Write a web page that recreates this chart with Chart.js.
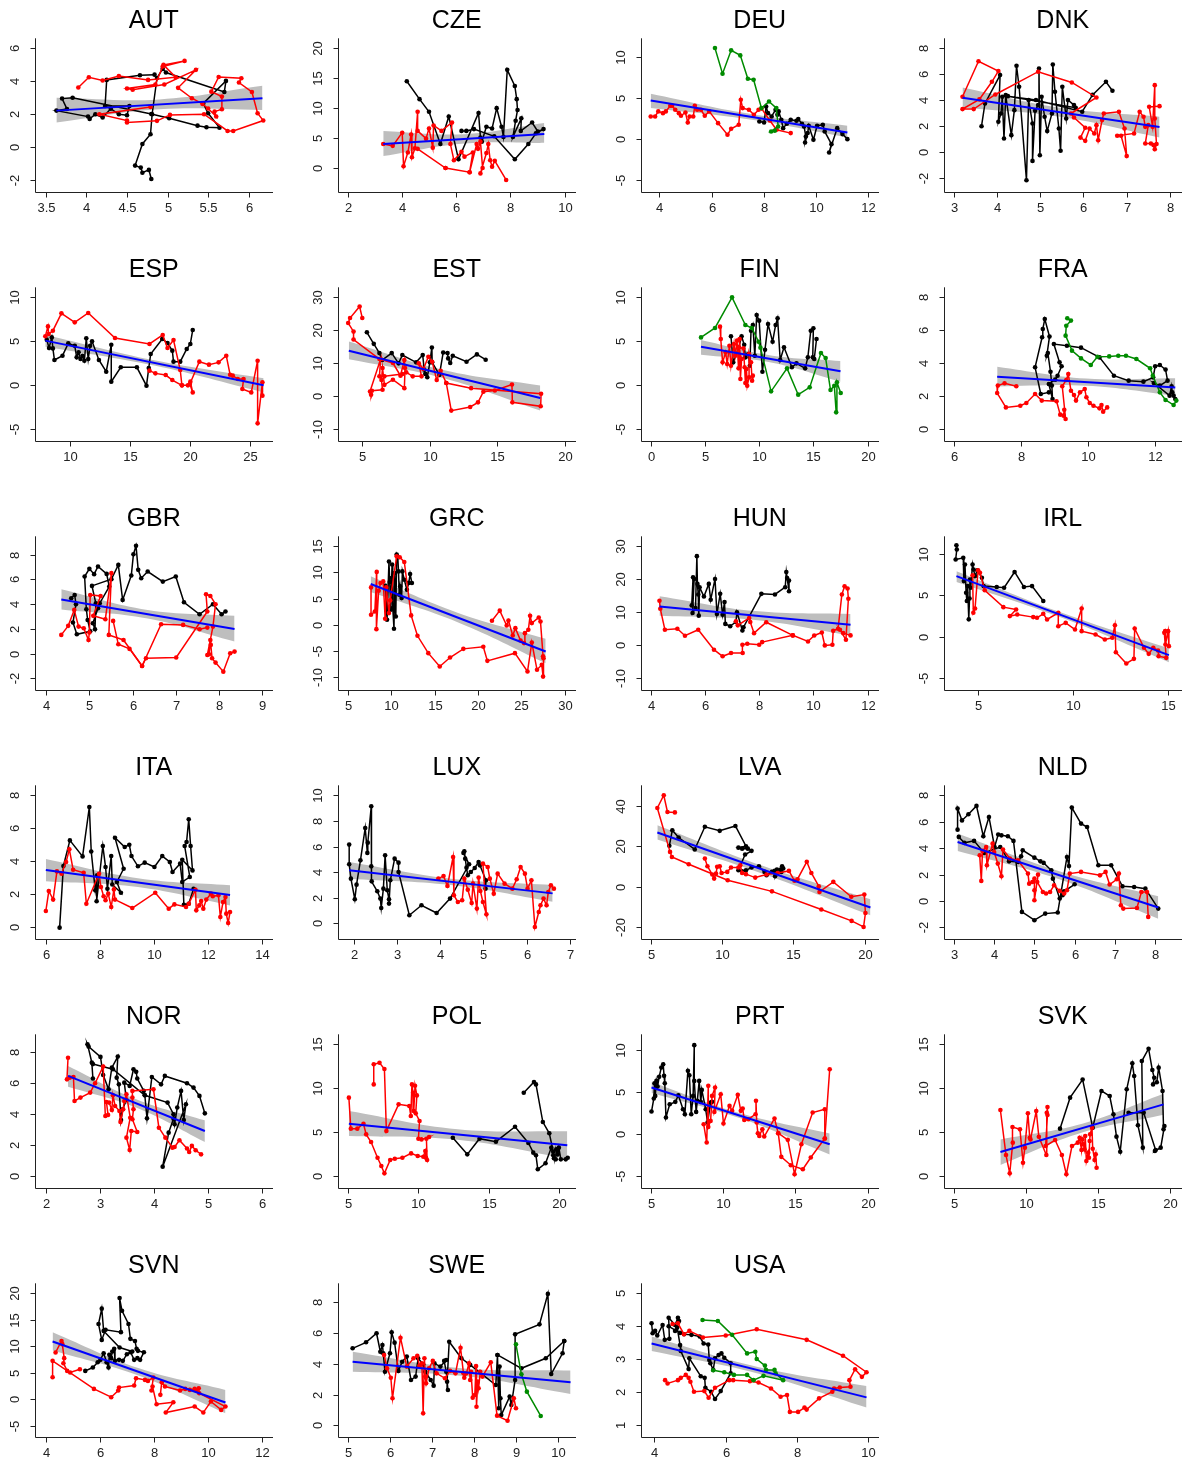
<!DOCTYPE html>
<html>
<head>
<meta charset="utf-8">
<script src="https://cdn.jsdelivr.net/npm/chart.js@4.4.0/dist/chart.umd.min.js"></script>
<style>
  html, body { margin: 0; padding: 0; background: #fff; overflow: hidden; width: 1183px; height: 1461px; position: relative; }
  canvas { position: absolute; }
</style>
</head>
<body>
<script>
// ---- data ----
const countries = ["AUT","CZE","DEU","DNK","ESP","EST","FIN","FRA","GBR","GRC","HUN","IRL","ITA","LUX","LVA","NLD","NOR","POL","PRT","SVK","SVN","SWE","USA"];

// AUT
const AUT_xticks = [3.5,4,4.5,5,5.5,6];
const AUT_yticks = [-2,0,2,4,6];
const AUT_lim = [3.36,6.30,-2.69,6.6];
const AUT_fit = [[3.63,2.22],[6.17,2.97]];
const AUT_band = [[3.63,1.50,3.00],[4.90,2.30,2.90],[6.17,2.26,3.72]];
const AUT_black = [[4.80,-1.92],[4.77,-1.37],[4.69,-1.54],[4.67,-1.23],[4.60,-1.11],[4.69,0.20],[4.79,0.79],[4.81,2.00],[4.87,4.20],[4.94,4.75],[4.98,4.53],[5.70,3.35],[5.72,4.02],[5.44,2.65],[5.50,2.06],[5.64,1.19],[5.48,1.21],[5.37,1.31],[5.02,1.76],[4.80,2.02],[3.83,3.00],[3.70,2.95],[3.76,2.32],[3.63,2.22],[4.02,1.86],[4.04,1.72],[4.11,2.00],[4.20,1.80],[4.30,2.34],[4.40,2.00],[4.50,1.94],[4.53,2.50],[4.23,2.50],[4.25,4.08],[4.66,4.36],[4.84,4.40]];
const AUT_red = [[3.90,3.62],[4.03,4.24],[4.20,4.04],[4.40,4.32],[4.76,4.08],[5.10,4.24],[4.95,4.99],[5.21,5.23],[4.94,4.89],[4.85,3.80],[4.50,3.56],[4.57,3.48],[4.96,3.80],[5.35,4.69],[5.13,3.60],[5.30,2.97],[5.43,2.63],[5.50,2.35],[5.60,1.86],[5.58,2.16],[5.67,2.30],[5.67,3.07],[5.54,3.37],[5.63,4.26],[5.91,4.18],[5.88,3.92],[6.04,3.35],[6.11,2.06],[6.18,1.62],[5.81,0.99],[5.74,0.99],[5.45,2.00],[5.03,1.96],[4.87,1.60],[4.50,1.50],[4.50,1.62],[4.16,2.00],[4.79,2.44]];

// CZE
const CZE_xticks = [2,4,6,8,10];
const CZE_yticks = [0,5,10,15,20];
const CZE_lim = [1.61,10.42,-3.96,21.67];
const CZE_fit = [[3.30,4.0],[9.25,5.70]];
const CZE_band = [[3.30,2.0,6.2],[6.30,4.1,5.65],[9.25,4.2,7.5]];
const CZE_black = [[4.17,14.5],[4.64,11.5],[4.99,9.4],[5.41,4.0],[5.72,8.6],[6.08,1.45],[6.82,9.2],[6.89,5.1],[6.94,4.4],[7.11,6.9],[7.32,6.6],[7.49,10.0],[7.67,6.9],[7.74,5.2],[7.88,16.4],[8.16,13.7],[8.23,11.5],[8.26,9.7],[8.19,7.9],[8.09,5.2],[8.40,8.3],[8.38,6.2],[8.80,7.6],[9.01,6.1],[9.22,6.5],[8.94,5.8],[8.66,4.0],[8.16,1.45],[7.40,5.3],[6.65,6.5],[6.37,6.2],[6.19,6.2]];
const CZE_red = [[3.30,4.0],[3.65,3.7],[4.00,5.9],[4.05,0.3],[4.21,2.6],[4.33,5.6],[4.36,1.8],[4.47,3.3],[4.57,9.4],[4.57,6.2],[4.88,4.9],[4.99,6.6],[5.13,3.4],[5.16,7.1],[5.45,6.2],[5.84,7.6],[5.78,4.0],[5.91,1.3],[6.19,2.7],[6.30,1.9],[6.61,2.6],[6.49,-0.7],[5.60,0.0],[4.57,3.2],[5.60,0.0],[6.49,-0.7],[6.75,4.0],[6.80,3.2],[6.89,4.4],[6.97,0.0],[6.89,-0.9],[7.11,2.5],[7.18,4.0],[7.25,1.3],[7.32,0.2],[7.42,1.2],[7.84,-2.0]];

// DEU
const DEU_xticks = [4,6,8,10,12];
const DEU_yticks = [-5,0,5,10];
const DEU_lim = [3.28,12.41,-6.37,12.22];
const DEU_fit = [[3.67,4.69],[11.2,0.81]];
const DEU_band = [[3.67,3.76,5.5],[7.40,2.4,3.1],[11.2,0.2,1.62]];
const DEU_black = [[7.83,2.14],[8.01,2.02],[8.09,3.96],[8.16,3.15],[8.30,2.75],[8.45,3.56],[8.52,2.95],[8.57,3.36],[8.67,2.35],[8.74,1.33],[8.88,1.86],[9.03,2.35],[9.25,2.22],[9.32,2.43],[9.46,1.86],[9.54,1.54],[9.61,0.32],[9.58,-0.40],[9.68,0.73],[9.72,1.62],[9.90,-0.08],[10.04,1.62],[10.26,1.74],[10.33,0.93],[10.59,-0.61],[10.50,-1.62],[10.81,1.33],[11.01,0.61],[11.20,0.0]];
const DEU_red = [[3.67,2.75],[3.84,2.75],[3.96,3.36],[4.14,3.15],[4.25,3.36],[4.42,4.04],[4.49,4.04],[4.61,3.56],[4.75,3.15],[4.83,2.83],[5.00,3.23],[5.09,2.02],[5.16,2.75],[5.30,2.75],[5.36,4.04],[5.45,3.56],[5.59,3.56],[5.74,2.83],[5.91,3.36],[6.25,1.94],[6.61,0.53],[6.75,1.25],[7.04,1.74],[7.12,4.77],[7.19,3.76],[7.43,3.56],[7.62,2.95],[7.80,3.56],[7.91,3.72],[8.23,2.26],[8.49,1.13],[9.03,0.73]];
const DEU_green = [[6.13,11.04],[6.42,7.93],[6.75,10.76],[7.10,10.15],[7.39,7.32],[7.61,7.20],[7.91,3.76],[8.20,4.57],[8.48,3.76],[8.55,1.54],[8.28,0.93],[8.42,1.01]];

// DNK
const DNK_xticks = [3,4,5,6,7,8];
const DNK_yticks = [-2,0,2,4,6,8];
const DNK_lim = [2.76,8.28,-3.08,8.77];
const DNK_fit = [[3.20,4.17],[7.76,1.91]];
const DNK_band = [[3.20,3.43,4.97],[5.50,2.70,3.38],[7.76,1.11,2.71]];
const DNK_black = [[3.64,1.98],[3.72,3.74],[4.07,5.93],[4.03,2.32],[4.09,2.96],[4.12,4.25],[4.16,1.03],[4.20,4.38],[4.33,1.29],[4.40,3.22],[4.45,6.65],[4.51,5.03],[4.68,-2.19],[4.73,4.0],[4.82,2.19],[4.82,-0.70],[4.88,3.17],[4.95,3.61],[4.97,6.44],[4.99,-0.26],[5.03,4.25],[5.10,2.71],[5.16,1.60],[5.27,2.96],[5.29,6.75],[5.34,4.64],[5.43,1.80],[5.47,0.08],[5.51,5.03],[5.60,2.58],[5.64,4.0],[5.78,3.61],[5.82,3.40],[4.25,4.30],[4.90,4.00],[5.97,3.10],[6.21,4.40],[6.52,5.41],[6.67,4.72]];
const DNK_red = [[3.20,4.25],[3.57,7.0],[4.03,6.24],[3.88,5.41],[3.59,4.05],[3.20,3.30],[3.46,3.30],[3.96,4.43],[4.95,6.19],[5.73,5.36],[6.30,4.20],[5.71,2.96],[5.78,2.65],[6.04,1.86],[5.93,1.10],[6.04,0.85],[6.14,1.80],[6.25,1.42],[6.30,2.06],[6.34,0.90],[6.43,2.45],[6.47,2.96],[6.82,3.09],[6.95,1.80],[7.00,-0.33],[6.87,1.24],[6.78,1.24],[7.17,1.42],[7.30,3.09],[7.39,2.71],[7.43,1.93],[7.50,2.06],[7.43,0.64],[7.56,0.64],[7.62,0.52],[7.65,0.20],[7.69,0.60],[7.65,2.58],[7.65,5.15],[7.60,1.93],[7.52,3.48],[7.76,3.53]];

// ESP
const ESP_xticks = [10,15,20,25];
const ESP_yticks = [-5,0,5,10];
const ESP_lim = [7.03,26.88,-6.29,11.14];
const ESP_fit = [[7.93,5.08],[26.1,0.0]];
const ESP_band = [[7.93,4.39,5.76],[17.0,2.25,2.85],[26.1,-0.8,0.8]];
const ESP_black = [[8.05,5.19],[8.24,4.24],[8.47,5.45],[8.56,4.20],[8.69,2.88],[9.36,3.37],[9.84,4.77],[10.38,4.50],[10.54,3.18],[10.70,3.75],[10.86,2.99],[11.02,3.37],[11.18,2.80],[11.34,5.34],[11.50,2.99],[11.66,4.50],[11.82,5.00],[12.39,2.88],[13.00,1.55],[13.42,4.62],[13.42,0.42],[14.21,2.05],[15.55,2.05],[16.35,-0.04],[16.54,1.97],[16.70,3.56],[17.66,5.27],[18.10,4.81],[18.50,3.94],[18.60,2.69],[19.16,2.69],[19.70,4.13],[20.00,4.70],[20.20,6.29]];
const ESP_red = [[16.60,1.67],[17.09,1.36],[17.95,1.17],[18.50,0.60],[19.30,0.00],[19.16,1.74],[18.60,5.15],[18.10,4.24],[17.70,5.72],[16.60,4.70],[13.73,5.38],[11.50,8.22],[10.38,7.16],[9.27,8.18],[8.56,6.21],[8.21,5.83],[8.15,6.70],[7.93,5.57]];
const ESP_red2 = [[19.30,0.00],[19.80,0.00],[20.00,0.42],[20.20,-0.80],[19.96,0.15],[20.75,2.69],[21.55,2.35],[22.35,2.61],[22.99,3.37],[23.31,1.21],[23.53,1.10],[23.95,0.72],[24.43,0.72],[24.33,-0.42],[25.07,-0.80],[25.60,2.80],[25.60,-4.32],[26.00,0.34],[26.00,-1.17]];

// EST
const EST_xticks = [5,10,15,20];
const EST_yticks = [-10,0,10,20,30];
const EST_lim = [3.16,20.85,-13.4,33.0];
const EST_fit = [[4.0,13.8],[18.2,-0.5]];
const EST_band = [[4.0,11.2,16.6],[11.1,5.4,7.9],[18.2,-4.3,3.3]];
const EST_black = [[5.34,19.4],[5.85,15.9],[6.27,13.1],[6.47,11.0],[7.18,13.1],[7.69,10.0],[7.97,12.5],[8.99,10.3],[9.48,12.5],[9.59,8.1],[9.67,6.8],[9.82,5.8],[10.01,10.3],[10.16,14.8],[10.18,10.3],[10.72,6.5],[11.00,13.3],[11.32,13.1],[11.37,11.5],[11.52,10.1],[11.71,12.3],[12.73,10.5],[13.50,12.7],[14.15,11.1]];
const EST_red = [[5.00,23.7],[4.80,27.2],[4.09,23.7],[3.95,22.2],[4.35,19.6],[4.35,17.2],[6.27,11.3],[7.27,10.1],[7.83,6.26],[8.12,11.0],[8.17,8.6],[8.12,2.5],[7.27,5.05],[6.64,3.5],[6.50,8.6],[6.42,4.95],[6.50,2.0],[5.71,1.7],[5.65,0.5],[5.57,1.5],[6.36,11.3],[6.27,6.06],[6.64,6.06],[7.97,6.77],[8.26,7.27],[8.74,6.06],[9.39,6.06],[9.19,10.0],[9.53,8.3],[9.90,12.0],[10.18,10.5],[10.52,4.95],[10.81,7.78],[11.23,4.04],[13.07,2.5],[18.26,0.8],[18.23,-3.0],[16.13,-1.8],[16.10,3.6],[14.83,1.8],[13.98,1.4],[13.58,-1.8],[13.00,-3.2],[11.60,-4.3],[11.23,4.04]];

// FIN
const FIN_xticks = [0,5,10,15,20];
const FIN_yticks = [-5,0,5,10];
const FIN_lim = [-0.94,21.05,-6.29,11.14];
const FIN_fit = [[4.64,4.39],[17.5,1.59]];
const FIN_band = [[4.64,3.48,5.15],[11.1,2.6,3.4],[17.5,0.42,2.77]];
const FIN_black = [[7.40,5.57],[7.61,2.61],[8.13,4.32],[8.38,5.57],[8.62,4.62],[8.73,3.18],[9.00,3.56],[9.14,2.23],[9.25,6.21],[9.42,6.86],[9.60,3.37],[9.77,7.99],[10.00,7.35],[10.30,1.55],[10.54,4.05],[10.82,6.97],[11.24,4.96],[11.52,6.86],[11.70,7.61],[11.94,2.88],[12.29,4.32],[13.02,2.05],[13.44,2.50],[14.24,1.93],[14.49,3.18],[14.76,6.21],[15.00,6.48],[14.94,3.18],[15.08,2.99],[15.29,5.27]];
const FIN_red = [[6.39,6.67],[6.46,5.27],[6.63,2.61],[6.91,3.75],[7.05,2.42],[7.26,4.50],[7.40,2.23],[7.68,4.70],[7.78,3.37],[7.96,5.08],[8.10,1.93],[8.20,5.27],[8.27,0.72],[8.38,2.99],[8.10,4.32],[8.55,4.20],[8.66,2.05],[8.73,0.27],[8.83,1.86],[8.90,-0.04],[9.07,0.91],[9.07,3.56],[9.25,2.61],[9.35,0.53],[9.42,1.10]];
const FIN_green = [[4.64,5.45],[5.93,6.52],[7.50,10.0],[8.73,6.86],[9.32,6.52],[9.95,4.96],[10.12,4.28],[11.10,-0.68],[12.57,1.93],[13.60,-1.06],[14.66,-0.23],[15.70,3.67],[16.13,3.10],[16.58,-0.53],[16.93,-0.04],[17.10,-3.07],[17.17,0.34],[17.52,-0.87]];

// FRA
const FRA_xticks = [6,8,10,12];
const FRA_yticks = [0,2,4,6,8];
const FRA_lim = [5.69,12.80,-0.69,8.61];
const FRA_fit = [[7.29,3.19],[12.6,2.53]];
const FRA_band = [[7.29,2.6,3.8],[9.95,2.64,3.08],[12.6,2.04,3.09]];
const FRA_black = [[8.83,2.24],[8.59,2.14],[8.42,3.76],[8.63,5.58],[8.65,6.08],[8.71,6.69],[8.85,5.62],[8.77,4.46],[8.80,4.63],[8.88,3.49],[8.92,2.65],[8.94,1.84],[8.83,2.75],[9.02,3.01],[9.09,3.25],[9.21,3.82],[9.15,4.06],[8.98,5.17],[9.37,5.07],[9.79,4.95],[10.34,4.36],[10.77,3.25],[11.21,2.95],[11.65,2.89],[11.94,3.15],[12.00,3.82],[12.14,3.90],[12.31,3.62],[12.37,2.95],[12.14,2.65],[11.96,2.81],[12.43,2.04],[12.49,2.61],[12.51,2.24],[12.55,2.04],[12.60,1.84]];
const FRA_red = [[7.86,2.61],[7.51,2.79],[7.31,2.65],[7.29,2.20],[7.55,1.33],[7.98,1.43],[8.16,1.60],[8.42,2.14],[8.62,1.74],[9.06,1.70],[9.17,0.89],[9.27,0.83],[9.29,1.19],[9.33,0.63],[9.23,2.61],[9.35,2.99],[9.41,3.35],[9.49,2.34],[9.58,2.08],[9.64,1.74],[9.76,2.24],[9.90,2.44],[9.95,1.94],[10.05,1.60],[10.16,1.43],[10.34,1.27],[10.40,1.47],[10.45,1.07],[10.57,1.33]];
const FRA_green = [[9.38,6.73],[9.49,6.59],[9.35,6.28],[9.33,5.68],[9.52,4.77],[9.79,4.30],[10.08,3.90],[10.28,4.40],[10.63,4.42],[10.90,4.46],[11.13,4.46],[11.44,4.26],[11.85,3.70],[11.93,3.25],[12.14,2.24],[12.31,1.78],[12.55,1.47],[12.63,1.74]];

// GBR
const GBR_xticks = [4,5,6,7,8,9];
const GBR_yticks = [-2,0,2,4,6,8];
const GBR_lim = [3.73,9.25,-2.92,9.48];
const GBR_fit = [[4.35,4.37],[8.36,1.99]];
const GBR_band = [[4.35,3.56,5.2],[6.35,2.83,3.53],[8.36,0.97,3.05]];
const GBR_black = [[4.58,4.47],[4.66,4.74],[4.69,3.99],[4.62,2.51],[4.71,1.56],[5.02,1.80],[4.96,2.72],[4.93,3.58],[4.89,6.23],[5.00,6.85],[5.11,6.42],[5.20,7.04],[5.40,6.44],[5.46,5.42],[5.24,4.07],[5.20,3.67],[5.08,2.45],[5.13,1.97],[5.15,4.07],[5.06,5.47],[5.51,6.01],[5.67,7.17],[5.77,4.34],[5.97,6.31],[6.02,8.03],[6.08,8.71],[6.13,6.77],[6.20,6.09],[6.35,6.63],[6.70,5.82],[7.00,6.23],[7.19,4.15],[7.55,3.18],[7.86,3.99],[8.06,3.18],[8.15,3.40]];
const GBR_red = [[4.35,1.51],[4.51,2.24],[4.65,3.53],[4.75,2.18],[4.87,2.05],[4.98,1.10],[5.00,1.70],[5.02,4.74],[5.26,4.66],[5.09,3.05],[5.37,2.78],[5.51,6.50],[5.45,1.51],[5.79,1.10],[6.22,-1.00],[6.31,-0.38],[7.01,-0.32],[7.73,3.40],[7.70,4.80],[7.80,4.66],[7.92,3.99],[7.86,2.18],[7.73,-0.11],[7.77,-0.05],[7.80,1.10],[7.81,0.70],[7.84,-0.38],[7.92,-0.73],[8.10,-1.46],[8.26,0.03],[8.36,0.16]];
const GBR_red2 = [[5.55,2.64],[5.67,0.75],[5.93,0.38],[6.22,-1.00],[6.66,2.37],[7.17,2.32],[7.55,1.97],[7.73,2.10]];

// GRC
const GRC_xticks = [5,10,15,20,25,30];
const GRC_yticks = [-10,-5,0,5,10,15];
const GRC_lim = [3.77,31.3,-12.4,16.9];
const GRC_fit = [[7.6,7.78],[27.8,-5.1]];
const GRC_band = [[7.6,6.25,9.25],[17.7,0.45,2.25],[27.8,-7.33,-2.68]];
const GRC_black = [[9.27,7.46],[9.49,0.96],[9.71,12.1],[9.80,8.16],[9.93,2.87],[10.02,8.93],[10.07,11.5],[10.15,3.19],[10.29,-0.77],[10.37,9.89],[10.50,1.59],[10.60,13.4],[10.73,12.9],[10.81,10.2],[10.90,5.74],[11.00,7.33],[11.17,5.10],[11.26,10.2],[11.48,8.6],[11.78,6.7],[12.00,8.0],[12.15,9.7],[12.36,7.97]];
const GRC_red = [[7.64,7.14],[7.64,1.91],[8.08,2.55],[8.30,10.1],[8.26,-0.83],[8.52,6.50],[8.74,7.97],[9.05,8.29],[9.27,1.15],[9.40,7.14],[9.71,2.23],[9.85,4.66],[10.60,13.1],[10.95,12.9],[11.48,12.0],[12.27,1.79],[13.00,-2.1],[14.25,-5.42],[15.57,-7.97],[16.76,-6.25],[18.30,-4.6],[20.60,-4.2],[21.07,-6.89],[24.25,-5.42],[25.70,-8.93],[26.20,-3.4],[26.80,-8.6],[27.35,-7.65],[27.50,-9.9],[27.55,-6.4]];
const GRC_red2 = [[21.60,0.77],[22.50,2.70],[23.30,-0.13],[23.50,0.83],[24.00,-2.04],[24.30,-0.64],[24.90,-3.00],[25.30,-3.50],[25.40,-1.60],[25.80,-0.96],[26.00,1.72],[26.20,0.32],[27.00,1.40],[27.20,0.64],[27.50,-6.0]];

// HUN
const HUN_xticks = [4,6,8,10,12];
const HUN_yticks = [-10,0,10,20,30];
const HUN_lim = [3.62,12.42,-13.4,33.0];
const HUN_fit = [[4.32,11.8],[11.37,6.26]];
const HUN_band = [[4.32,9.0,14.9],[7.85,7.7,10.4],[11.37,3.0,9.5]];
const HUN_black = [[5.51,12.1],[5.56,20.6],[5.60,20.1],[5.54,9.8],[5.65,11.3],[5.70,27.0],[5.72,18.6],[5.75,15.4],[5.77,9.0],[5.80,17.6],[5.96,14.8],[6.14,18.6],[6.21,13.8],[6.37,20.1],[6.44,9.5],[6.56,15.6],[6.65,9.3],[6.72,13.1],[6.75,6.5],[6.93,5.8],[7.14,7.1],[7.18,10.0],[7.38,4.5],[7.42,5.5],[8.08,15.6],[8.58,15.4],[8.96,17.6],[9.00,22.2],[9.03,20.4],[9.10,16.4],[9.10,19.6]];
const HUN_red = [[4.32,13.5],[4.35,11.1],[4.52,4.75],[4.98,5.05],[5.26,2.93],[5.75,4.75],[6.33,-1.3],[6.65,-3.3],[6.96,-2.3],[7.39,-2.3],[7.38,0.2],[7.56,0.5],[8.00,0.2],[8.11,1.0],[9.24,3.03],[9.80,1.2],[10.03,3.0],[10.31,3.9],[10.42,0.0],[10.70,0.2],[10.73,4.4],[10.91,5.05],[11.05,15.4],[11.15,17.9],[11.26,17.2],[11.29,14.1],[11.20,1.7],[10.98,4.75],[11.10,3.7],[11.37,3.03]];
const HUN_red2 = [[7.14,7.3],[7.21,6.06],[7.63,8.3],[7.67,7.1],[7.81,3.7],[8.26,7.0],[9.24,3.03]];

// IRL
const IRL_xticks = [5,10,15];
const IRL_yticks = [-5,0,5,10];
const IRL_lim = [3.18,15.73,-6.36,12.09];
const IRL_fit = [[3.86,7.3],[15.04,-2.2]];
const IRL_band = [[3.86,6.6,7.9],[9.45,2.25,2.85],[15.04,-3.05,-1.4]];
const IRL_black = [[3.86,11.0],[3.88,10.5],[3.82,9.3],[4.22,9.5],[4.25,6.7],[4.31,8.7],[4.37,5.3],[4.41,4.3],[4.45,6.1],[4.51,2.1],[4.55,4.6],[4.57,6.9],[4.61,5.9],[4.71,8.7],[4.76,8.1],[4.84,7.3],[4.96,8.0],[5.20,7.1],[5.29,6.1],[5.98,6.0],[6.37,5.9],[6.92,7.8],[7.41,6.0],[7.84,6.1],[8.43,4.3]];
const IRL_red = [[4.71,7.4],[4.75,2.9],[4.84,3.4],[5.00,8.0],[5.10,7.7],[5.35,5.6],[6.33,3.57],[7.00,3.29],[6.67,2.49],[7.06,2.69],[7.90,2.37],[8.10,2.29],[8.43,2.77],[8.63,2.09],[9.22,2.89],[9.22,1.28],[9.61,1.68],[10.10,0.88],[10.45,3.41],[10.45,0.68],[11.18,0.28],[11.67,-0.32],[12.06,-0.12],[12.20,1.40],[12.25,-1.85],[12.80,-3.21],[13.20,-2.65],[13.24,1.00],[13.73,-1.32],[13.98,-2.05],[14.22,-1.32],[14.47,-1.65],[14.50,-2.33],[14.90,-2.53],[14.80,0.48],[14.84,0.68],[14.86,-0.92],[15.00,0.68],[15.04,-1.12]];

// ITA
const ITA_xticks = [6,8,10,12,14];
const ITA_yticks = [0,2,4,6,8];
const ITA_lim = [5.57,14.4,-0.69,8.61];
const ITA_fit = [[5.99,3.47],[12.81,1.96]];
const ITA_band = [[5.99,2.79,4.14],[9.4,2.44,2.98],[12.81,1.33,2.55]];
const ITA_black = [[6.50,-0.02],[6.64,3.72],[6.88,5.27],[7.35,4.30],[7.60,7.29],[7.67,4.60],[7.82,2.24],[7.89,3.15],[7.87,1.58],[8.10,4.93],[8.20,3.66],[8.27,2.34],[8.41,4.32],[8.45,2.60],[8.77,2.10],[8.62,2.75],[8.87,3.55],[8.55,5.43],[8.91,4.87],[9.08,5.01],[9.16,4.32],[9.40,3.70],[9.65,3.92],[10.01,3.66],[10.30,4.32],[10.58,3.96],[10.68,3.35],[10.96,3.86],[11.04,2.75],[11.32,3.05],[11.13,4.93],[11.20,5.17],[11.28,6.55],[11.35,4.93],[11.42,3.45],[11.04,4.10],[11.10,1.37],[11.28,1.43],[11.46,2.34]];
const ITA_red = [[5.99,0.99],[6.10,2.20],[6.26,1.68],[6.40,3.39],[6.57,3.25],[6.74,3.96],[6.86,4.73],[7.00,3.49],[7.39,3.31],[7.49,1.43],[7.96,3.25],[8.03,2.44],[8.13,1.88],[8.20,1.64],[8.30,2.04],[8.41,1.23],[8.51,2.30],[8.55,1.68],[9.19,1.17],[10.04,2.10],[10.54,1.13],[10.75,1.39],[11.18,1.23],[11.28,1.43],[11.53,2.28],[11.56,1.03],[11.67,1.33],[11.74,1.60],[11.82,1.13],[11.93,1.68],[12.10,2.04],[12.17,1.88],[12.38,1.94],[12.45,0.63],[12.55,1.53],[12.64,1.84],[12.67,0.83],[12.74,0.26],[12.81,0.93]];

// LUX
const LUX_xticks = [2,3,4,5,6,7];
const LUX_yticks = [0,2,4,6,8,10];
const LUX_lim = [1.63,7.14,-1.2,10.78];
const LUX_fit = [[1.9,4.14],[6.6,2.34]];
const LUX_band = [[1.9,3.49,4.79],[4.25,2.99,3.49],[6.6,1.69,3.0]];
const LUX_black = [[1.90,6.15],[1.90,4.61],[1.94,3.49],[2.03,1.88],[2.07,3.02],[2.16,4.92],[2.27,7.45],[2.32,5.50],[2.33,6.30],[2.41,9.14],[2.41,4.45],[2.42,3.28],[2.55,2.50],[2.62,1.93],[2.64,1.20],[2.69,2.71],[2.73,5.31],[2.78,2.58],[2.82,1.88],[2.82,1.54],[2.85,3.36],[2.95,5.05],[3.04,4.74],[3.04,4.01],[3.29,0.63],[3.57,1.41],[3.92,0.81],[4.23,1.93],[4.67,4.61],[4.54,5.50],[4.56,5.63],[4.58,5.05],[4.61,4.35],[4.64,3.75],[4.71,4.01],[4.80,4.32],[4.89,4.79],[4.92,4.53],[5.06,3.36],[5.05,2.71]];
const LUX_red = [[3.96,3.49],[4.08,3.70],[4.17,2.92],[4.30,5.18],[4.32,2.19],[4.41,1.67],[4.51,1.80],[4.56,3.49],[4.64,2.63],[4.73,1.59],[4.76,3.10],[4.85,1.15],[4.89,3.57],[4.93,2.53],[4.99,1.67],[5.07,0.70],[4.99,4.66],[5.10,4.40],[5.15,3.49],[5.24,2.32],[5.33,3.88],[5.49,3.10],[5.67,2.71],[5.77,3.44],[5.86,4.40],[5.96,3.88],[6.02,2.71],[6.11,3.36],[6.19,-0.29],[6.28,0.89],[6.32,1.41],[6.39,1.93],[6.46,1.41],[6.50,2.45],[6.56,2.97],[6.63,2.71]];

// LVA
const LVA_xticks = [5,10,15,20];
const LVA_yticks = [-20,0,20,40];
const LVA_lim = [4.29,21.0,-25.6,50.2];
const LVA_fit = [[5.47,26.9],[20.4,-10.2]];
const LVA_band = [[5.47,23.4,30.5],[12.9,6.4,10.3],[20.4,-14.0,-6.1]];
const LVA_black = [[6.31,20.3],[6.52,28.0],[6.96,24.4],[8.09,18.5],[8.80,29.7],[9.84,27.7],[10.94,30.1],[11.68,20.1],[11.15,19.4],[11.41,18.9],[11.81,18.9],[12.07,17.8],[11.62,16.0],[11.15,8.2],[11.41,7.7],[11.68,8.2],[12.07,9.6],[12.59,10.2],[12.98,7.4],[13.12,5.8],[13.50,7.4],[13.69,7.9],[13.72,5.3],[13.85,8.6],[14.11,8.6],[14.16,7.4],[14.29,9.1],[14.21,10.2]];
const LVA_red = [[6.70,36.8],[6.18,37.0],[5.92,45.3],[5.47,39.0],[6.36,17.3],[6.49,14.8],[7.67,11.2],[10.40,3.3],[13.50,-2.2],[16.96,-11.2],[19.08,-16.8],[19.92,-19.8],[20.05,-12.9],[19.97,-3.8],[19.06,-4.9],[17.80,2.5],[16.83,-2.5],[16.78,0.33],[16.26,6.9],[15.94,12.4],[15.29,3.8],[15.08,3.0],[14.69,7.9],[13.90,6.9],[13.12,6.1],[12.33,4.6],[11.68,6.3],[11.41,6.9],[11.28,10.7],[11.15,9.6],[10.63,9.6],[10.37,7.4],[9.97,6.9],[9.84,10.2],[9.66,9.9],[9.58,6.6],[9.45,4.1],[9.32,6.1],[8.98,10.2],[8.80,14.0]];

// NLD
const NLD_xticks = [3,4,5,6,7,8];
const NLD_yticks = [-2,0,2,4,6,8];
const NLD_lim = [2.74,8.67,-2.86,8.76];
const NLD_fit = [[3.09,4.47],[8.08,-0.5]];
const NLD_band = [[3.09,3.79,5.1],[5.6,1.67,2.27],[8.08,-1.34,0.35]];
const NLD_black = [[3.09,5.40],[3.09,7.00],[3.20,6.10],[3.36,6.57],[3.56,7.20],[3.73,4.90],[3.87,6.36],[4.01,4.09],[4.10,5.03],[4.18,4.97],[4.34,4.90],[4.48,4.55],[4.69,-0.83],[5.00,-1.46],[5.27,-0.96],[5.58,-0.88],[5.81,3.33],[5.86,2.65],[5.93,7.07],[6.16,5.86],[6.31,5.60],[6.59,2.70],[6.91,2.70],[7.19,1.11],[7.48,1.06],[7.76,0.93],[8.08,-0.58]];
const NLD_black2 = [[3.12,4.85],[3.26,4.40],[3.50,4.55],[3.75,3.64],[4.15,4.09],[4.37,3.00],[4.60,2.95],[4.67,3.38],[4.71,3.84],[5.00,3.28],[5.15,3.00],[5.23,2.88],[5.42,2.32],[5.46,1.69],[5.63,0.18],[5.70,0.43],[5.74,0.73],[6.00,1.26]];
const NLD_red = [[3.64,3.46],[3.68,1.52],[3.71,3.79],[3.80,4.09],[3.82,2.70],[3.96,4.34],[4.00,3.71],[4.09,2.83],[4.18,1.87],[4.22,3.89],[4.39,3.21],[4.59,3.08],[4.84,2.07],[4.87,1.31],[4.95,1.44],[5.00,1.69],[5.00,0.81],[5.00,0.05],[5.09,1.99],[5.07,1.44],[5.21,0.68],[5.29,0.56],[5.39,0.68],[5.49,1.19],[5.63,0.76],[5.74,0.56],[5.81,0.81],[5.88,2.07],[6.16,2.20],[6.63,1.94],[6.77,2.20],[6.87,1.24],[7.05,1.64],[7.10,2.07],[7.15,-0.33],[7.21,-0.58],[7.55,-0.53],[7.66,0.68],[7.80,0.68],[7.83,-1.21]];

// NOR
const NOR_xticks = [2,3,4,5,6];
const NOR_yticks = [0,2,4,6,8];
const NOR_lim = [1.79,6.2,-0.73,9.11];
const NOR_fit = [[2.41,6.44],[4.94,2.91]];
const NOR_band = [[2.41,5.75,7.08],[3.67,4.41,4.95],[4.94,2.2,3.59]];
const NOR_black = [[2.87,6.27],[2.85,7.29],[2.77,8.47],[2.79,8.32],[3.01,7.66],[3.06,6.50],[3.16,5.58],[3.22,6.97],[3.33,7.68],[3.31,6.33],[3.35,5.90],[3.39,3.61],[3.42,4.30],[3.49,4.90],[3.45,6.01],[3.55,5.80],[3.62,6.87],[3.67,6.70],[3.69,6.27],[3.81,5.48],[3.83,5.20],[3.87,3.72],[3.96,6.37],[4.13,5.90],[4.20,6.44],[4.61,5.97],[4.73,5.69],[4.84,5.16],[4.94,4.04]];
const NOR_black2 = [[2.87,7.20],[3.24,6.87],[3.83,5.20],[4.25,4.73],[4.36,3.98],[4.38,3.34],[4.43,4.41],[4.50,5.48],[4.55,3.61],[4.59,4.62],[4.16,0.62],[4.27,2.80],[4.36,3.70]];
const NOR_red = [[2.41,7.61],[2.39,6.22],[2.44,6.33],[2.51,6.37],[2.53,4.83],[2.64,5.05],[2.82,5.37],[2.91,5.97],[3.06,7.04],[3.10,3.87],[3.15,3.94],[3.12,4.77],[3.17,4.73],[3.22,4.26],[3.24,5.20],[3.28,4.51],[3.36,4.19],[3.38,3.49],[3.43,4.30],[3.45,4.83],[3.49,5.26],[3.56,3.76],[3.49,2.48],[3.55,1.69],[3.58,2.91],[3.69,2.84],[3.60,3.66],[3.62,4.30],[3.60,5.05],[3.60,5.48],[3.99,5.58],[4.09,3.12],[4.21,2.48],[4.34,1.84],[4.38,1.88],[4.47,2.31],[4.61,1.78],[4.65,1.56],[4.70,1.95],[4.77,1.67],[4.87,1.41]];

// POL
const POL_xticks = [5,10,15,20];
const POL_yticks = [0,5,10,15];
const POL_lim = [4.24,21.22,-1.29,16.14];
const POL_fit = [[5.05,5.98],[20.6,3.52]];
const POL_band = [[5.05,4.58,7.42],[12.8,4.15,5.35],[20.6,2.0,5.11]];
const POL_black = [[12.45,4.39],[13.48,2.50],[14.35,4.28],[15.52,3.94],[16.88,5.64],[17.83,3.79],[18.18,2.69],[18.37,2.39],[18.50,0.80],[19.05,1.48],[19.46,3.26],[19.60,2.39],[19.65,2.05],[19.78,1.93],[19.81,3.07],[19.92,2.50],[20.00,3.26],[20.14,1.93],[20.49,1.93],[20.63,2.12]];
const POL_black2 = [[17.50,9.50],[18.23,10.72],[18.37,10.45],[18.86,6.17],[19.32,4.89],[19.60,2.80]];
const POL_red = [[5.05,8.94],[5.19,5.42],[5.65,5.42],[6.09,5.98],[6.28,4.77],[6.63,3.90],[7.09,2.12],[7.36,1.17],[7.58,0.34],[7.99,1.86],[8.32,2.00],[8.86,2.12],[9.48,2.61],[9.95,2.31],[10.35,2.23],[10.49,2.88],[10.54,2.12],[10.62,1.86],[10.57,4.28],[10.76,4.47],[10.22,4.20],[10.00,4.28],[10.08,6.29],[9.81,7.16],[9.89,9.20],[9.76,10.30],[9.67,7.42],[9.62,9.50],[9.54,10.45],[9.46,6.86],[9.35,8.00],[8.59,8.18],[7.72,5.15],[7.58,12.2],[7.23,12.9],[6.82,12.73],[6.82,10.45]];

// PRT
const PRT_xticks = [5,10,15,20];
const PRT_yticks = [-5,0,5,10];
const PRT_lim = [4.29,20.79,-6.35,11.86];
const PRT_fit = [[5.05,5.54],[17.38,-1.19]];
const PRT_band = [[5.05,4.9,6.21],[11.2,1.89,2.49],[17.38,-2.41,0.08]];
const PRT_black = [[5.05,2.69],[5.21,4.23],[5.26,6.05],[5.31,4.55],[5.39,6.33],[5.47,5.66],[5.58,6.81],[5.73,7.91],[5.86,8.31],[5.92,6.93],[5.97,6.05],[6.05,1.98],[6.31,3.56],[6.70,3.84],[6.91,4.63],[7.23,2.97],[7.36,2.37],[7.57,7.52],[7.67,7.00],[7.80,2.37],[7.93,4.55],[8.01,10.57],[8.01,6.33],[8.14,2.65],[8.22,3.96],[8.35,6.33],[8.46,3.84],[8.53,5.26],[8.80,2.97],[8.93,1.39],[9.14,3.76],[9.24,3.84]];
const PRT_red = [[8.66,1.19],[8.87,-0.99],[8.98,5.74],[8.98,0.87],[9.14,1.58],[9.24,4.55],[9.45,5.54],[9.40,2.65],[9.84,4.75],[10.03,1.27],[10.45,3.36],[10.63,2.77],[11.02,4.67],[11.23,2.77],[11.36,3.05],[11.47,1.70],[11.75,1.78],[12.25,2.37],[12.28,3.96],[12.33,1.39],[12.41,0.12],[12.51,-0.20],[12.72,0.59],[12.85,-0.28],[13.56,1.86],[13.82,0.12],[14.03,-2.69],[14.69,-3.68],[15.52,-4.16],[16.07,-2.77],[17.04,-0.51],[17.38,7.72]];
const PRT_red2 = [[13.82,0.12],[14.48,-0.67],[14.95,-4.75],[15.42,-1.19],[16.20,2.57],[17.04,2.97],[17.04,-0.51]];

// SVK
const SVK_xticks = [5,10,15,20];
const SVK_yticks = [0,5,10,15];
const SVK_lim = [4.27,20.83,-1.29,16.14];
const SVK_fit = [[8.22,2.77],[19.55,8.18]];
const SVK_band = [[8.22,1.29,4.2],[13.9,4.98,5.98],[19.55,7.0,9.39]];
const SVK_black = [[12.36,5.42],[13.06,8.94],[13.93,11.0],[14.63,5.53],[15.24,9.70],[15.81,9.13],[16.07,7.05],[16.28,4.51],[16.54,2.80],[16.99,9.89],[17.38,12.84],[17.51,11.40],[17.77,5.80],[18.11,3.26],[18.04,13.10],[18.51,14.50],[18.77,12.08],[18.90,11.20],[18.82,10.45],[19.08,10.70],[19.21,12.35],[19.48,9.70],[19.55,5.34],[19.61,5.72],[19.35,3.26],[18.95,2.88],[19.00,2.99],[18.17,7.23],[17.12,7.23]];
const SVK_red = [[8.22,7.54],[8.61,2.42],[8.87,0.34],[9.08,3.83],[9.06,5.60],[9.58,5.34],[9.79,1.55],[9.92,3.26],[10.13,7.16],[10.26,4.39],[10.31,4.20],[10.71,7.42],[10.89,4.50],[11.41,2.42],[11.44,7.23],[11.49,7.88],[11.49,6.97],[11.36,3.45],[12.02,4.13],[12.49,2.42],[12.80,0.23],[13.19,3.45],[13.59,3.83],[13.72,4.39],[13.85,2.99],[13.90,4.20],[13.98,3.64],[14.06,3.07],[14.11,4.58],[14.19,1.74],[14.32,2.69],[14.37,2.12],[14.42,4.02],[14.45,4.77],[14.58,5.53],[14.63,3.14],[14.76,1.86],[14.84,2.50],[14.90,0.98]];

// SVN
const SVN_xticks = [4,6,8,10,12];
const SVN_yticks = [-5,0,5,10,15,20];
const SVN_lim = [3.57,12.4,-7.08,21.89];
const SVN_fit = [[4.24,10.9],[10.64,-0.63]];
const SVN_band = [[4.24,9.19,12.66],[7.44,4.44,5.84],[10.64,-2.64,1.76]];
const SVN_black = [[5.45,5.35],[5.73,5.98],[5.91,6.99],[6.01,7.43],[6.13,8.69],[6.24,6.99],[6.31,5.98],[6.34,8.38],[6.41,7.75],[6.45,9.00],[6.52,9.51],[6.55,7.24],[6.70,7.43],[6.84,7.24],[6.99,8.50],[7.13,8.88],[7.26,7.43],[7.38,7.75],[7.48,7.43],[7.62,8.88],[7.40,9.13],[7.35,9.51],[7.29,11.0],[7.12,11.4],[7.05,14.2],[6.81,16.7],[6.72,19.1],[6.77,12.66],[6.20,13.1],[6.06,11.2],[5.94,14.2],[6.06,17.1],[6.13,12.9],[6.72,9.76],[7.19,9.00]];
const SVN_red = [[4.24,4.16],[4.24,7.24],[5.77,1.95],[6.41,0.38],[6.67,1.64],[6.70,2.20],[7.26,2.58],[7.33,3.97],[7.66,3.65],[7.77,3.46],[7.97,4.09],[7.90,1.64],[7.94,2.39],[8.09,-0.94],[8.71,-0.57],[8.43,-2.52],[9.50,-1.39],[9.82,-2.52],[10.10,-0.44],[10.48,-2.02],[10.64,-1.39],[9.67,1.13],[9.65,2.08],[9.56,1.64],[9.50,1.95],[9.32,1.76],[9.15,1.95],[8.96,1.64],[8.40,2.39],[8.28,3.21],[8.23,0.82]];
const SVN_red2 = [[4.35,8.82],[4.57,11.0],[4.60,10.4],[4.67,7.75],[4.64,6.80],[4.78,5.35],[4.89,5.04],[5.25,5.67]];

// SWE
const SWE_xticks = [5,6,7,8,9,10];
const SWE_yticks = [0,2,4,6,8];
const SWE_lim = [4.75,10.43,-0.74,9.24];
const SWE_fit = [[5.11,4.14],[10.3,2.8]];
const SWE_band = [[5.11,3.49,4.79],[7.7,3.22,3.72],[10.3,2.04,3.56]];
const SWE_black = [[5.11,5.01],[5.43,5.40],[5.68,5.99],[5.77,4.79],[5.82,5.23],[5.84,4.69],[5.88,3.49],[6.00,4.69],[6.04,6.05],[6.11,5.38],[6.20,3.54],[6.29,4.14],[6.40,4.47],[6.50,2.95],[6.61,3.17],[6.67,4.36],[6.79,3.97],[6.84,3.49],[6.97,2.95],[7.04,2.58],[7.06,4.03],[7.20,3.82],[7.34,4.25],[7.29,4.19],[7.34,3.49],[7.38,2.30],[7.36,2.84],[7.41,5.44],[7.70,4.36],[7.91,3.93],[8.52,2.62],[8.56,4.58],[8.59,1.11],[8.61,3.82],[8.63,1.76],[8.65,0.67],[8.85,1.87],[8.89,1.32],[8.98,2.95],[8.98,5.92],[9.56,6.57],[9.76,8.55],[9.84,3.34],[10.11,4.69],[10.15,5.49]];
const SWE_black2 = [[8.56,4.58],[9.13,3.71],[9.71,4.36],[10.15,5.49]];
const SWE_red = [[5.86,4.58],[5.93,3.71],[6.02,3.10],[6.06,1.76],[6.25,5.70],[6.40,3.82],[6.56,4.36],[6.65,4.53],[6.70,3.88],[6.76,4.03],[6.79,0.78],[6.82,4.36],[6.84,3.17],[6.86,2.73],[6.93,3.71],[7.02,4.19],[7.11,3.38],[7.31,3.06],[7.43,3.54],[7.56,3.38],[7.68,5.05],[7.75,3.38],[7.77,3.10],[7.82,3.38],[7.88,4.03],[7.91,2.95],[7.93,3.49],[7.97,1.80],[8.02,1.97],[8.05,3.86],[8.06,1.21],[8.09,2.84],[8.11,2.41],[8.15,3.49],[8.20,3.17],[8.40,4.10],[8.55,0.63],[8.80,0.30],[8.95,1.76],[9.00,1.11]];
const SWE_green = [[9.00,5.27],[9.13,3.32],[9.26,2.19],[9.59,0.61]];

// USA
const USA_xticks = [4,6,8,10];
const USA_yticks = [1,2,3,4,5];
const USA_lim = [3.61,10.3,0.66,5.3];
const USA_fit = [[3.92,3.48],[9.95,1.85]];
const USA_band = [[3.92,3.25,3.69],[6.9,2.57,2.77],[9.95,1.54,2.19]];
const USA_black = [[3.92,4.09],[3.95,3.79],[4.02,3.86],[4.08,3.72],[4.23,4.04],[4.29,3.59],[4.42,3.62],[4.40,4.26],[4.58,4.04],[4.66,4.26],[4.69,4.16],[4.58,3.86],[4.64,3.96],[4.72,3.43],[4.74,3.25],[4.96,2.71],[4.98,3.03],[5.30,2.49],[5.41,2.44],[5.43,2.14],[5.59,2.02],[5.70,1.80],[5.86,2.04],[6.14,2.58],[6.14,2.88],[5.96,3.05],[5.88,3.18],[5.80,3.13],[5.70,3.03],[5.65,2.68],[5.57,2.88],[5.54,2.98],[5.51,3.45],[5.38,3.48],[5.27,3.69],[5.04,3.74],[4.83,3.76],[4.72,3.80],[4.40,4.00]];
const USA_red = [[4.30,2.37],[4.37,2.27],[4.66,2.37],[4.74,2.44],[4.88,2.53],[4.96,2.44],[5.01,2.32],[5.11,2.02],[5.40,2.04],[5.52,1.84],[5.70,2.14],[6.10,2.37],[6.21,2.37],[6.68,2.34],[6.92,2.30],[7.27,2.12],[7.54,1.87],[7.72,1.92],[7.80,1.41],[8.03,1.41],[8.21,1.54],[8.27,1.48],[8.62,1.82],[8.99,2.02],[9.04,2.12],[9.20,2.15],[9.50,2.17],[9.47,2.37],[9.63,2.70],[9.82,2.47],[9.95,2.61],[9.29,3.11],[8.27,3.59],[6.87,3.91],[6.00,3.72],[5.36,3.66],[4.98,3.86],[4.83,3.76],[4.66,4.09],[4.51,4.07]];
const USA_green = [[5.35,4.19],[5.78,4.16],[6.18,3.74],[6.60,3.18],[6.83,3.23],[6.87,3.01],[7.10,2.81],[7.13,2.68],[7.37,2.68],[7.40,2.58],[7.61,2.37],[7.06,2.50],[6.78,2.37],[6.60,2.53],[6.23,2.53],[5.96,2.61],[5.65,2.67]];

// one row per panel: ticks, limits, fit, band, then the coloured paths
const panels = [
  [AUT_xticks, AUT_yticks, AUT_lim, AUT_fit, AUT_band, [AUT_black], [AUT_red], []],
  [CZE_xticks, CZE_yticks, CZE_lim, CZE_fit, CZE_band, [CZE_black], [CZE_red], []],
  [DEU_xticks, DEU_yticks, DEU_lim, DEU_fit, DEU_band, [DEU_black], [DEU_red], [DEU_green]],
  [DNK_xticks, DNK_yticks, DNK_lim, DNK_fit, DNK_band, [DNK_black], [DNK_red], []],
  [ESP_xticks, ESP_yticks, ESP_lim, ESP_fit, ESP_band, [ESP_black], [ESP_red, ESP_red2], []],
  [EST_xticks, EST_yticks, EST_lim, EST_fit, EST_band, [EST_black], [EST_red], []],
  [FIN_xticks, FIN_yticks, FIN_lim, FIN_fit, FIN_band, [FIN_black], [FIN_red], [FIN_green]],
  [FRA_xticks, FRA_yticks, FRA_lim, FRA_fit, FRA_band, [FRA_black], [FRA_red], [FRA_green]],
  [GBR_xticks, GBR_yticks, GBR_lim, GBR_fit, GBR_band, [GBR_black], [GBR_red, GBR_red2], []],
  [GRC_xticks, GRC_yticks, GRC_lim, GRC_fit, GRC_band, [GRC_black], [GRC_red, GRC_red2], []],
  [HUN_xticks, HUN_yticks, HUN_lim, HUN_fit, HUN_band, [HUN_black], [HUN_red, HUN_red2], []],
  [IRL_xticks, IRL_yticks, IRL_lim, IRL_fit, IRL_band, [IRL_black], [IRL_red], []],
  [ITA_xticks, ITA_yticks, ITA_lim, ITA_fit, ITA_band, [ITA_black], [ITA_red], []],
  [LUX_xticks, LUX_yticks, LUX_lim, LUX_fit, LUX_band, [LUX_black], [LUX_red], []],
  [LVA_xticks, LVA_yticks, LVA_lim, LVA_fit, LVA_band, [LVA_black], [LVA_red], []],
  [NLD_xticks, NLD_yticks, NLD_lim, NLD_fit, NLD_band, [NLD_black, NLD_black2], [NLD_red], []],
  [NOR_xticks, NOR_yticks, NOR_lim, NOR_fit, NOR_band, [NOR_black, NOR_black2], [NOR_red], []],
  [POL_xticks, POL_yticks, POL_lim, POL_fit, POL_band, [POL_black, POL_black2], [POL_red], []],
  [PRT_xticks, PRT_yticks, PRT_lim, PRT_fit, PRT_band, [PRT_black], [PRT_red, PRT_red2], []],
  [SVK_xticks, SVK_yticks, SVK_lim, SVK_fit, SVK_band, [SVK_black], [SVK_red], []],
  [SVN_xticks, SVN_yticks, SVN_lim, SVN_fit, SVN_band, [SVN_black], [SVN_red, SVN_red2], []],
  [SWE_xticks, SWE_yticks, SWE_lim, SWE_fit, SWE_band, [SWE_black, SWE_black2], [SWE_red], [SWE_green]],
  [USA_xticks, USA_yticks, USA_lim, USA_fit, USA_band, [USA_black], [USA_red], [USA_green]]
];

// ---- layout ----
const COLW = 303, ROWH = 249;
const CW = 290, CH = 249;
const BOX = { left: 34.5, right: 273, top: 38.3, bottom: 191.7 };
const FONT = '"Liberation Sans", Arial, Helvetica, sans-serif';
const GREEN = 'rgb(0,139,0)';

// base-graphics style axes: L box, outward ticks, rotated y labels, title
const rAxes = {
  id: 'rAxes',
  afterDraw(chart) {
    const o = chart.options.plugins.rAxes;
    const ctx = chart.ctx, a = chart.chartArea;
    const xs = chart.scales.x, ys = chart.scales.y;
    const L = Math.round(a.left) + 0.5, B = Math.round(a.bottom) + 0.5;
    ctx.save();
    ctx.strokeStyle = '#222';
    ctx.lineWidth = 1;
    ctx.beginPath();
    ctx.moveTo(L, a.top);
    ctx.lineTo(L, B);
    ctx.lineTo(a.right, B);
    ctx.stroke();

    ctx.fillStyle = '#222';
    ctx.font = '13px ' + FONT;
    ctx.textAlign = 'center';
    ctx.textBaseline = 'middle';
    o.xticks.forEach(v => {
      const px = Math.round(xs.getPixelForValue(v)) + 0.5;
      ctx.beginPath(); ctx.moveTo(px, B); ctx.lineTo(px, B + 5); ctx.stroke();
      ctx.fillText(String(v), px, 208);
    });
    o.yticks.forEach(v => {
      const py = Math.round(ys.getPixelForValue(v)) + 0.5;
      ctx.beginPath(); ctx.moveTo(L - 5, py); ctx.lineTo(L, py); ctx.stroke();
      ctx.save();
      ctx.translate(15, py);
      ctx.rotate(-Math.PI / 2);
      ctx.fillText(String(v), 0, 0);
      ctx.restore();
    });

    ctx.fillStyle = '#000';
    ctx.font = '25px ' + FONT;
    ctx.textBaseline = 'alphabetic';
    ctx.fillText(o.title, (a.left + a.right) / 2, 28);
    ctx.restore();
  }
};

const pts = arr => arr.map(d => ({ x: d[0], y: d[1] }));

function pathSet(arr, color, order) {
  return {
    data: pts(arr),
    borderColor: color,
    backgroundColor: color,
    borderWidth: 1.5,
    pointRadius: 2.3,
    pointBorderWidth: 0,
    pointBackgroundColor: color,
    fill: false,
    tension: 0,
    order: order
  };
}

panels.forEach((p, i) => {
  const [xt, yt, lim, fit, band, blacks, reds, greens] = p;
  const cv = document.createElement('canvas');
  cv.width = CW; cv.height = CH;
  cv.style.left = (i % 4) * COLW + 'px';
  cv.style.top = Math.floor(i / 4) * ROWH + 'px';
  cv.style.width = CW + 'px'; cv.style.height = CH + 'px';
  document.body.appendChild(cv);

  const datasets = [
    { data: band.map(b => ({ x: b[0], y: b[1] })), borderWidth: 0, pointRadius: 0, tension: 0.4, fill: false, order: 20 },
    { data: band.map(b => ({ x: b[0], y: b[2] })), borderWidth: 0, pointRadius: 0, tension: 0.4, fill: '-1', backgroundColor: '#BEBEBE', order: 19 }
  ];
  blacks.forEach(s => datasets.push(pathSet(s, '#000000', 5)));
  reds.forEach(s => datasets.push(pathSet(s, '#FF0000', 4)));
  greens.forEach(s => datasets.push(pathSet(s, GREEN, 3)));
  datasets.push({ data: pts(fit), borderColor: '#0000FF', borderWidth: 2, pointRadius: 0, fill: false, order: 0 });

  new Chart(cv, {
    type: 'line',
    data: { datasets },
    options: {
      responsive: false,
      animation: false,
      devicePixelRatio: 1,
      layout: { padding: { left: BOX.left, right: CW - BOX.right, top: BOX.top, bottom: CH - BOX.bottom } },
      scales: {
        x: { type: 'linear', display: false, min: lim[0], max: lim[1] },
        y: { type: 'linear', display: false, min: lim[2], max: lim[3] }
      },
      plugins: {
        legend: { display: false },
        tooltip: { enabled: false },
        rAxes: { title: countries[i], xticks: xt, yticks: yt }
      }
    },
    plugins: [rAxes]
  });
});
</script>
</body>
</html>
